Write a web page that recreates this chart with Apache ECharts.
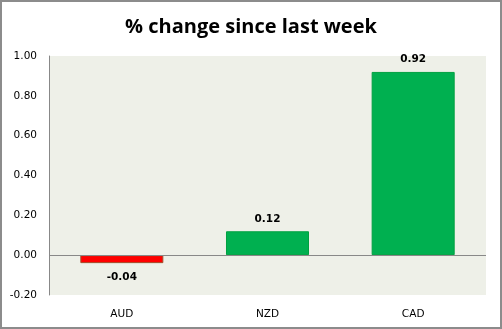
<!DOCTYPE html>
<html><head><meta charset="utf-8">
<script src="https://cdn.jsdelivr.net/npm/echarts@6/dist/echarts.min.js"></script>
<style>html,body{margin:0;padding:0;background:#fff}#c{width:502px;height:329px;box-sizing:border-box;border:2px solid #8c8c8c}</style>
</head><body><div id="c"></div>
<script>
const categories = ['AUD','NZD','CAD'];
const values = [-0.04, 0.12, 0.92];
const yTicks = { min: -0.2, max: 1.0, interval: 0.2 };
const title = '% change since last week';

const chart = echarts.init(document.getElementById('c'), null, {renderer:'canvas'});
chart.setOption({
  animation:false,
  title:{text:title,left:'center',top:10,textStyle:{fontFamily:'Open Sans',fontWeight:'bold',fontSize:20,color:'#000'}},
  grid:{left:47,right:14,top:54,bottom:32,show:true,backgroundColor:'#EEF0E8',borderWidth:0},
  xAxis:{type:'category',data:categories,
    axisLine:{show:false},axisTick:{show:false},
    axisLabel:{fontFamily:'DejaVu Sans',fontSize:10.5,color:'#000',margin:14}},
  yAxis:{type:'value',min:yTicks.min,max:yTicks.max,interval:yTicks.interval,
    axisLine:{show:true,lineStyle:{color:'#888',width:1}},axisTick:{show:false},
    splitLine:{show:false},
    axisLabel:{fontFamily:'DejaVu Sans',fontSize:10.5,color:'#000',margin:12,formatter:v=>v.toFixed(2)}},
  series:[{type:'bar',barWidth:'57%',
    data:values.map(v=>({value:v,
      itemStyle:{color:v<0?'#FF0000':'#00B050',borderColor:v<0?'#A0522D':'#00A040',borderWidth:1},
      label:v<0?{position:'bottom',distance:9}:{}})),
    label:{show:true,position:'top',fontFamily:'DejaVu Sans',fontWeight:'bold',fontSize:10.5,color:'#000',distance:7,
      formatter:p=>p.value.toFixed(2)},
    markLine:{silent:true,symbol:'none',label:{show:false},lineStyle:{color:'#888',type:'solid',width:1},data:[{yAxis:0}]}
  }]
});
</script></body></html>
